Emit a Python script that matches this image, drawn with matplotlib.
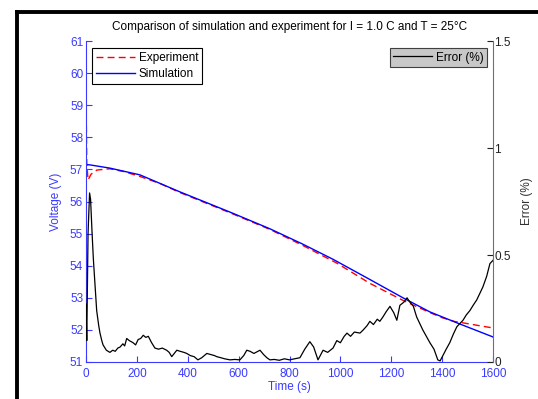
import matplotlib
matplotlib.use("Agg")
import matplotlib.pyplot as plt
from matplotlib.lines import Line2D

plt.rcParams['font.family'] = ['Liberation Sans', 'DejaVu Sans']

# Simulated voltage (V)
t_sim = [0, 16, 94, 212, 369, 566, 723, 850, 971, 1116, 1246, 1352, 1458, 1600]
v_sim = [57.15, 57.14, 57.04, 56.83, 56.30, 55.67, 55.15, 54.68, 54.20, 53.57,
         53.00, 52.56, 52.22, 51.78]

# Measured voltage (V)
t_exp = [0, 3, 8, 20, 43, 94, 150, 212, 291, 369, 450, 566, 723, 850, 986, 1116,
         1246, 1324, 1352, 1400, 1450, 1482, 1540, 1600]
v_exp = [59.4, 57.2, 56.67, 56.85, 56.98, 57.02, 56.93, 56.78, 56.56, 56.28, 56.02,
         55.65, 55.13, 54.64, 54.08, 53.45, 52.92, 52.64, 52.54, 52.38, 52.26, 52.22,
         52.14, 52.06]

# Relative error (%)
t_err = [0, 3, 8, 14, 18, 24, 29, 36, 42, 50, 55, 62, 67, 80, 94, 105, 115, 125, 134,
         145, 152, 160, 170, 178, 185, 195, 205, 215, 225, 235, 245, 258, 271, 285,
         300, 317, 327, 337, 347, 357, 370, 385, 396, 410, 425, 440, 455, 475, 490,
         505, 514, 530, 545, 566, 585, 605, 620, 632, 645, 660, 684, 698, 711, 723,
         740, 760, 780, 800, 820, 841, 860, 880, 895, 912, 932, 950, 971, 986, 1000,
         1015, 1026, 1040, 1055, 1077, 1090, 1105, 1116, 1130, 1145, 1155, 1167, 1180,
         1195, 1210, 1222, 1234, 1250, 1262, 1273, 1287, 1300, 1312, 1324, 1338, 1352,
         1368, 1383, 1392, 1403, 1416, 1430, 1444, 1458, 1470, 1482, 1495, 1509, 1522,
         1536, 1548, 1560, 1575, 1588, 1600]
err = [0.27, 0.10, 0.60, 0.79, 0.76, 0.60, 0.48, 0.35, 0.24, 0.17, 0.135, 0.10, 0.08,
       0.055, 0.045, 0.055, 0.05, 0.065, 0.07, 0.085, 0.075, 0.11, 0.10, 0.095, 0.09,
       0.08, 0.105, 0.11, 0.125, 0.115, 0.12, 0.09, 0.065, 0.06, 0.065, 0.055, 0.045,
       0.025, 0.04, 0.055, 0.05, 0.045, 0.04, 0.03, 0.025, 0.01, 0.02, 0.04, 0.035,
       0.03, 0.025, 0.02, 0.015, 0.01, 0.012, 0.01, 0.03, 0.055, 0.05, 0.04, 0.055,
       0.035, 0.02, 0.01, 0.012, 0.008, 0.015, 0.01, 0.015, 0.02, 0.06, 0.095, 0.07,
       0.01, 0.055, 0.045, 0.065, 0.10, 0.09, 0.12, 0.135, 0.12, 0.14, 0.135, 0.15,
       0.17, 0.19, 0.175, 0.20, 0.19, 0.21, 0.235, 0.26, 0.23, 0.195, 0.265, 0.28,
       0.30, 0.28, 0.26, 0.21, 0.18, 0.15, 0.12, 0.09, 0.06, 0.01, 0.005, 0.03, 0.06,
       0.09, 0.13, 0.165, 0.18, 0.195, 0.22, 0.24, 0.265, 0.29, 0.32, 0.35, 0.40,
       0.46, 0.475]

W, H = 538, 399
BLUE = '#3a3aff'
fig = plt.figure(figsize=(W / 100, H / 100), dpi=100)
fig.patch.set_facecolor('white')

ax = fig.add_axes([86 / W, (H - 362) / H, 407 / W, 321 / H])
ax.plot(t_exp, v_exp, color='red', linestyle='--', linewidth=1, dashes=(5, 3), label='Experiment')
ax.plot(t_sim, v_sim, color='blue', linewidth=1, label='Simulation')
ax.set_xlim(0, 1600)
ax.set_ylim(51, 61)
ax.set_xticks(range(0, 1601, 200))
ax.set_yticks(range(51, 62))
ax.tick_params(direction='in', length=4, colors=BLUE, labelsize=8.5, pad=2)
ax.tick_params(axis='x', pad=4)
for s in ['top', 'right']:
    ax.spines[s].set_visible(False)
for s in ['left', 'bottom']:
    ax.spines[s].set_color(BLUE)
ax.set_xlabel('Time (s)', color=BLUE, fontsize=8.5, labelpad=1)
ax.set_ylabel('Voltage (V)', color=BLUE, fontsize=8.5, labelpad=6)
leg1 = ax.legend(loc='upper left', bbox_to_anchor=(0.0147, 0.978), borderaxespad=0,
                 fontsize=8.5, fancybox=False, edgecolor='black', framealpha=1,
                 handlelength=3.3, handletextpad=0.3, borderpad=0.35, labelspacing=0.3)
leg1.get_frame().set_linewidth(0.8)

ax2 = ax.twinx()
ax2.plot(t_err, err, color='black', linewidth=0.9, label='Error (%)')
ax2.set_ylim(0, 1.5)
ax2.set_yticks([0, 0.5, 1, 1.5])
ax2.set_yticklabels(['0', '0.5', '1', '1.5'])
ax2.tick_params(direction='in', length=4, colors='#202020', labelsize=8.5, pad=1)
for s in ['top', 'left', 'bottom']:
    ax2.spines[s].set_visible(False)
ax2.spines['right'].set_color('#707070')
ax2.set_ylabel('Error (%)', color='#303030', fontsize=8.5, labelpad=7)
leg2 = ax2.legend(loc='upper right', bbox_to_anchor=(0.985, 0.978), borderaxespad=0,
                  fontsize=8.5, fancybox=False, edgecolor='#404040', facecolor='#c8c8c8',
                  framealpha=1, handlelength=3.3, handletextpad=0.3, borderpad=0.3)
leg2.get_frame().set_linewidth(0.8)

ax.set_title('Comparison of simulation and experiment for I = 1.0 C and T = 25\u00b0C',
             fontsize=8.5, pad=8)

# thick frame lines along top and left of the figure window
fig.add_artist(Line2D([16.5 / W, 1], [1 - 11.5 / H, 1 - 11.5 / H], color='black', linewidth=2.8))
fig.add_artist(Line2D([16.5 / W, 16.5 / W], [0, 1 - 11.5 / H], color='black', linewidth=2.8))

fig.savefig('out.png', dpi=100)
